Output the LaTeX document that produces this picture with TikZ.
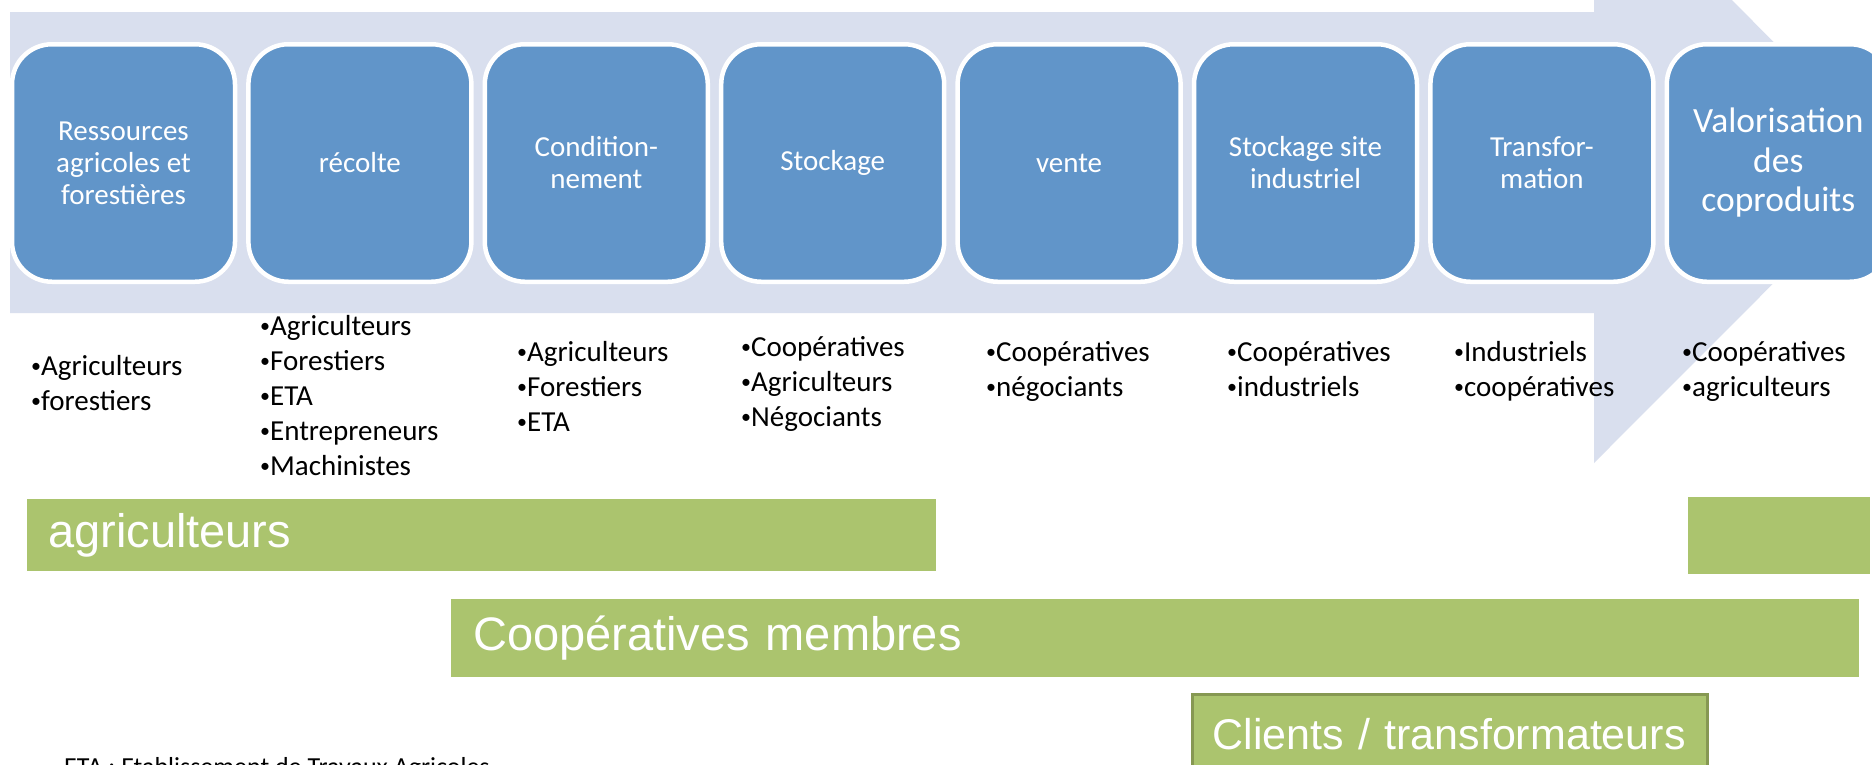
\documentclass[tikz,border=0pt]{standalone}
\usepackage{fontspec}
\setmainfont{Carlito}
\newfontfamily\arialf{Liberation Sans}
\definecolor{bandc}{HTML}{D9DFEE}
\definecolor{boxc}{HTML}{6195C9}
\definecolor{greenc}{HTML}{ABC46E}
\definecolor{olivec}{HTML}{869852}
\newcommand{\bul}{\raisebox{2.5pt}{\fontsize{20}{20}\selectfont •}}
\tikzset{
  stagebox/.style={rectangle, rounded corners=40pt, fill=boxc, draw=white, line width=4.5pt,
    minimum width=223pt, minimum height=237.5pt, text=white, align=center, inner sep=0pt,
    font=\fontsize{29}{32}\selectfont},
  actors/.style={anchor=north west, inner sep=0pt, align=left, text=black,
    font=\fontsize{29}{35}\selectfont},
  gbar/.style={rectangle, fill=greenc, anchor=north west, inner ysep=0pt, align=left,
    text=white, font=\arialf\fontsize{47}{52}\selectfont},
}
\begin{document}
\begin{tikzpicture}[x=1pt,y=-1pt]
\useasboundingbox (0,0) rectangle (1872,764);
\fill[white] (0,0) rectangle (1872,764);
\begin{scope}
\clip (0,0) rectangle (1872,764);
% big arrow band
\fill[bandc] (10,12) -- (1594,12) -- (1594,-138) -- (1894,162.5) -- (1594,463) -- (1594,313) -- (10,313) -- cycle;
% stage boxes
\node[stagebox] (s1) at (123.5,163) {Ressources\\agricoles et\\forestières};
\node[stagebox] (s2) at (359.9,163) {récolte};
\node[stagebox] (s3) at (596.3,163) {Condition-\\nement};
\node[stagebox] (s4) at (832.7,163) {Stockage};
\node[stagebox] (s5) at (1069.1,163) {vente};
\node[stagebox] (s6) at (1305.5,163) {Stockage site\\industriel};
\node[stagebox] (s7) at (1541.9,163) {Transfor-\\mation};
\node[stagebox, font=\fontsize{35.5}{39.5}\selectfont] (s8) at (1778.3,163) {Valorisation\\des\\coproduits};
% actor lists
\node[actors] (a1) at (31,355) {\bul Agriculteurs\\\bul forestiers};
\node[actors] (a2) at (260,315) {\bul Agriculteurs\\\bul Forestiers\\\bul ETA\\\bul Entrepreneurs\\\bul Machinistes};
\node[actors] (a3) at (517,341) {\bul Agriculteurs\\\bul Forestiers\\\bul ETA};
\node[actors] (a4) at (741,336) {\bul Coopératives\\\bul Agriculteurs\\\bul Négociants};
\node[actors] (a5) at (986,341) {\bul Coopératives\\\bul négociants};
\node[actors] (a6) at (1227,341) {\bul Coopératives\\\bul industriels};
\node[actors] (a7) at (1454,341) {\bul Industriels\\\bul coopératives};
\node[actors] (a8) at (1682,341) {\bul Coopératives\\\bul agriculteurs};
% green bars
\node[gbar, minimum height=72pt, text width=867pt, inner xsep=21pt] (agri) at (27,499) {agriculteurs};
\node[gbar, minimum height=77pt, minimum width=182pt, inner xsep=0pt] (agri2) at (1688,497) {};
\node[gbar, minimum height=78pt, text width=1364pt, inner xsep=22pt] (coop) at (451,599) {Coopératives membres};
\node[gbar, draw=olivec, line width=3pt, minimum height=80pt, text width=475pt, inner xsep=20pt,
  font=\arialf\fontsize{43}{48}\selectfont] (clients) at (1191,693) {Clients / transformateurs};
% footnote
\node[anchor=base west, inner sep=0pt, font=\fontsize{26}{30}\selectfont] (eta) at (64,775) {ETA : Etablissement de Travaux Agricoles};
\end{scope}
\end{tikzpicture}
\end{document}
